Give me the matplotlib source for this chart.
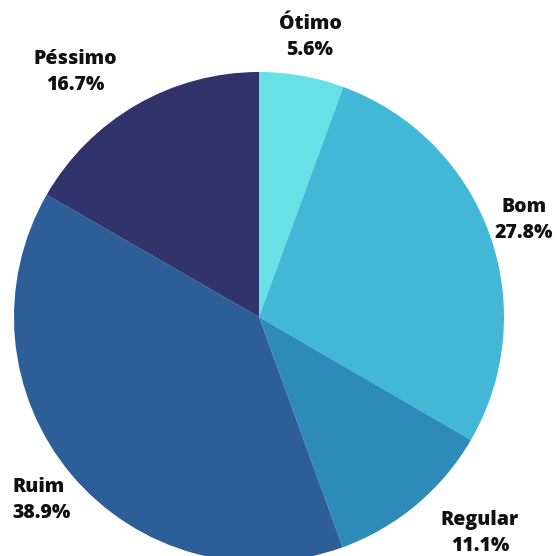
import matplotlib
matplotlib.use("Agg")
import matplotlib.pyplot as plt

categories = ["Ótimo", "Bom", "Regular", "Ruim", "Péssimo"]
shares = [5.6, 27.8, 11.1, 38.9, 16.7]
colors = ["#67E0E6", "#42B7D6", "#2D8BBA", "#2E5E98", "#30346A"]

# label anchor points (pixel coords, origin top-left) and alignment
label_pos = {
    "Ótimo": (310, 37, "center"),
    "Bom": (524, 220, "center"),
    "Regular": (480, 533, "center"),
    "Ruim": (12, 500, "left"),
    "Péssimo": (75, 72, "center"),
}

W, H = 557, 556
fig = plt.figure(figsize=(W / 100, H / 100), dpi=100)
ax = fig.add_axes([0, 0, 1, 1])

ax.pie(shares, colors=colors, startangle=90, counterclock=False,
       center=(259, H - 317), radius=245, frame=True,
       wedgeprops=dict(linewidth=0))
ax.set_xlim(0, W)
ax.set_ylim(0, H)
ax.set_aspect("equal")
ax.axis("off")

for cat, val in zip(categories, shares):
    x, y, ha = label_pos[cat]
    ax.text(x, H - y, f"{cat}\n{val:.1f}%", ha=ha, va="center",
            fontsize=14, fontweight=800, family="Open Sans",
            linespacing=1.4, color="#111111")

fig.savefig("out.png", dpi=100)
